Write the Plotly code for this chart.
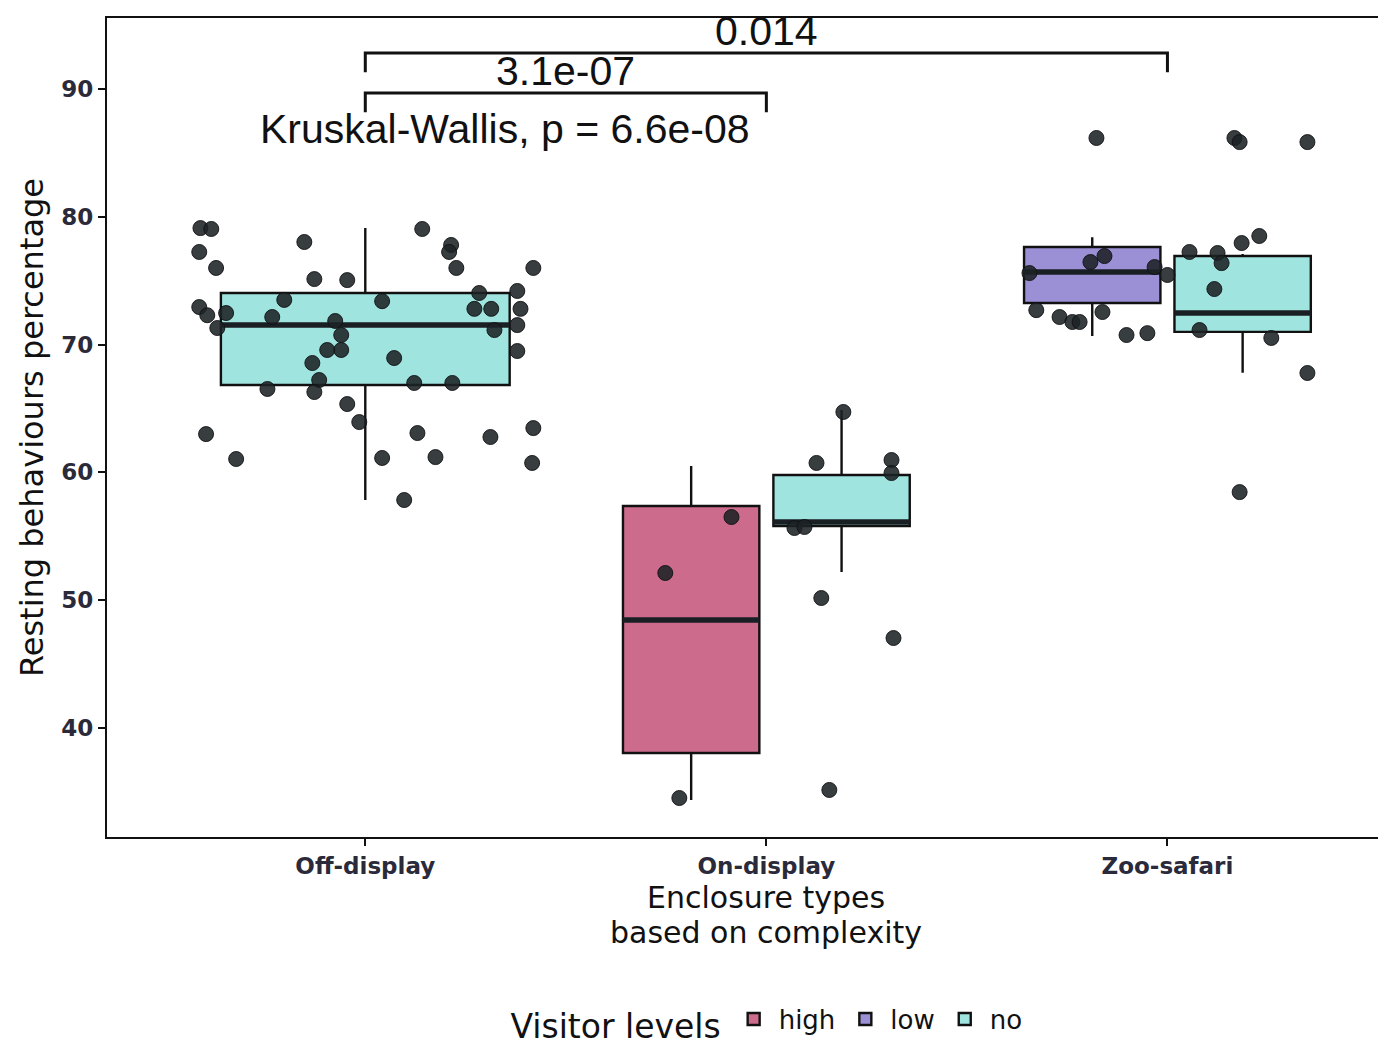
import plotly.graph_objects as go

# ---- categories and groups -------------------------------------------------
categories = ["Off-display", "On-display", "Zoo-safari"]
levels = ["high", "low", "no"]
level_colors = {"high": "#cc6b8b", "low": "#9b8fd6", "no": "#a0e4df"}

# ---- box summary statistics (one entry per box) ---------------------------
box_category = ["Off-display", "On-display", "On-display", "Zoo-safari", "Zoo-safari"]
box_level = ["no", "high", "no", "low", "no"]
box_offset = [0.0, -0.1875, 0.1875, -0.1875, 0.1875]
box_width = [0.72, 0.34, 0.34, 0.34, 0.34]
box_lower = [57.84, 34.37, 52.2, 70.67, 67.8]
box_q1 = [66.84, 38.04, 55.8, 73.26, 71.0]
box_median = [71.53, 48.45, 56.12, 75.68, 72.47]
box_q3 = [74.04, 57.37, 59.8, 77.64, 76.93]
box_upper = [79.12, 60.5, 64.88, 78.4, 77.1]

# ---- observations (jitter offset from category centre, value) -------------
off_jitter = [-0.411, -0.384, -0.152, -0.414, -0.372, -0.127, -0.045, 0.142, 0.214, 0.209,
              0.227, 0.419, -0.202, 0.042, 0.284, 0.379, -0.414, -0.394, -0.347, -0.369,
              -0.232, 0.272, 0.314, 0.387, -0.075, -0.060, -0.060, -0.095, -0.132, 0.379,
              0.322, 0.379, 0.072, -0.115, -0.127, -0.244, 0.122, 0.217, -0.045, -0.015,
              -0.397, -0.322, 0.130, 0.312, 0.419, 0.042, 0.175, 0.416, 0.097]
off_values = [79.12, 79.05, 78.03, 77.25, 76.0, 75.13, 75.05, 79.05, 77.8, 77.25,
              76.0, 76.0, 73.5, 73.4, 74.04, 74.2, 72.94, 72.3, 72.47, 71.3,
              72.16, 72.8, 72.8, 72.8, 71.85, 70.75, 69.58, 69.58, 68.56, 71.53,
              71.14, 69.5, 68.95, 67.23, 66.29, 66.53, 67.0, 67.0, 65.35, 63.94,
              63.0, 61.05, 63.08, 62.77, 63.47, 61.13, 61.2, 60.74, 57.84]

on_jitter = [0.192, 0.125, 0.312, 0.312, -0.087, -0.252, 0.070, 0.095, 0.137, 0.317,
             -0.217, 0.157]
on_values = [64.73, 60.74, 60.97, 59.95, 56.51, 52.13, 55.65, 55.73, 50.17, 47.04,
             34.52, 35.15]

zoo_jitter = [-0.177, 0.167, 0.180, 0.349, 0.229, 0.185, 0.055, 0.125, 0.135, -0.192,
              -0.157, -0.344, -0.032, 0.0, 0.117, -0.327, -0.269, -0.237, -0.219, -0.162,
              -0.102, -0.050, 0.080, 0.259, 0.349, 0.180]
zoo_values = [86.17, 86.17, 85.85, 85.85, 78.5, 77.95, 77.25, 77.17, 76.38, 76.46,
              76.93, 75.6, 76.07, 75.45, 74.35, 72.7, 72.16, 71.77, 71.77, 72.55,
              70.75, 70.9, 71.14, 70.52, 67.78, 58.46]

# ---- pairwise comparisons and global test ---------------------------------
comparisons = [("Off-display", "On-display", "3.1e-07", 89.69),
               ("Off-display", "Zoo-safari", "0.014", 92.82)]
bracket_drop = 1.5
kruskal_label = "Kruskal-Wallis, p = 6.6e-08"

cat_pos = {c: i + 1 for i, c in enumerate(categories)}
sans = "DejaVu Sans"
stat_font = "Liberation Sans, Arial"

fig = go.Figure()

# boxes
shown = set()
for cat, lev, off, w, lo, q1, med, q3, up in zip(box_category, box_level, box_offset, box_width,
                                                 box_lower, box_q1, box_median, box_q3, box_upper):
    x = cat_pos[cat] + off
    fig.add_trace(go.Box(
        x=[x], lowerfence=[lo], q1=[q1], median=[med], q3=[q3], upperfence=[up],
        width=w, whiskerwidth=0, boxpoints=False,
        fillcolor=level_colors[lev], line=dict(color="#111111", width=2.4),
        name=lev, legendgroup=lev, legendrank=levels.index(lev) + 1,
        showlegend=lev not in shown, hoverinfo="skip",
    ))
    shown.add(lev)

# thicker median segments
for cat, off, w, med in zip(box_category, box_offset, box_width, box_median):
    x = cat_pos[cat] + off
    fig.add_trace(go.Scatter(
        x=[x - w / 2, x + w / 2], y=[med, med], mode="lines",
        line=dict(color="#1a1f24", width=5.5), showlegend=False, hoverinfo="skip",
    ))

# jittered observations
for cat, jit, vals in [("Off-display", off_jitter, off_values),
                       ("On-display", on_jitter, on_values),
                       ("Zoo-safari", zoo_jitter, zoo_values)]:
    fig.add_trace(go.Scatter(
        x=[cat_pos[cat] + j for j in jit], y=vals, mode="markers",
        marker=dict(size=15, color="rgba(28,34,38,0.88)",
                    line=dict(color="rgba(15,18,20,0.9)", width=1)),
        showlegend=False, hoverinfo="skip",
    ))

# significance brackets
for a, b, label, yb in comparisons:
    xa, xb = cat_pos[a], cat_pos[b]
    fig.add_shape(type="path",
                  path=f"M {xa} {yb - bracket_drop} L {xa} {yb} L {xb} {yb} L {xb} {yb - bracket_drop}",
                  xref="x", yref="y", line=dict(color="#111111", width=3))
    fig.add_annotation(x=(xa + xb) / 2, y=yb, text=label, showarrow=False,
                       xref="x", yref="y", yanchor="bottom", yshift=-3,
                       font=dict(family=stat_font, size=41, color="#111111"))

fig.add_annotation(x=0.7325, y=86.87, text=kruskal_label, showarrow=False,
                   xref="x", yref="y", xanchor="left", yanchor="middle",
                   font=dict(family=stat_font, size=41, color="#111111"))

# x axis title (two lines), centred on the panel
for line_text, ypos in [("Enclosure types", -0.0733), ("based on complexity", -0.1172)]:
    fig.add_annotation(x=2, y=ypos, xref="x", yref="paper", text=line_text,
                       showarrow=False, yanchor="middle",
                       font=dict(family=sans, size=30, color="#111111"))

fig.update_layout(
    width=1378, height=1049,
    margin=dict(l=107, r=0, t=18, b=212),
    paper_bgcolor="white", plot_bgcolor="white",
    boxmode="overlay",
    font=dict(family=sans, color="#111111"),
    legend=dict(
        orientation="h", x=0.52, y=-0.226, xanchor="center", yanchor="middle",
        title=dict(text="Visitor levels", side="left",
                   font=dict(family=sans, size=33, color="#111111")),
        font=dict(family=sans, size=26, color="#111111"),
        itemwidth=40, traceorder="normal",
    ),
    xaxis=dict(
        range=[0.356, 3.525], tickmode="array",
        tickvals=[cat_pos[c] for c in categories], ticktext=categories,
        showline=True, linecolor="#111111", linewidth=2.2, mirror=True,
        ticks="outside", ticklen=7, tickwidth=2.2, tickcolor="#111111",
        tickfont=dict(family=sans, size=23, color="#2a2a3a", weight="bold"),
        showgrid=False, zeroline=False,
    ),
    yaxis=dict(
        range=[31.47, 95.56], tickmode="array", tickvals=[40, 50, 60, 70, 80, 90],
        showline=True, linecolor="#111111", linewidth=2.2,
        ticks="outside", ticklen=7, tickwidth=2.2, tickcolor="#111111",
        tickfont=dict(family=sans, size=23, color="#2a2a3a", weight="bold"),
        showgrid=False, zeroline=False,
        title=dict(text="Resting behaviours percentage", standoff=8,
                   font=dict(family=sans, size=32, color="#111111")),
    ),
)

fig.write_html("out.html")
